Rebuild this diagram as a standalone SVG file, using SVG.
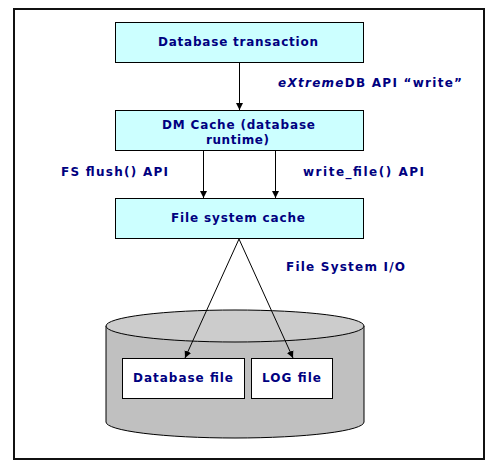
<svg xmlns="http://www.w3.org/2000/svg" width="496" height="470" viewBox="0 0 496 470">
<defs>
<style>
.box{fill:#CCFFFF;stroke:#000;stroke-width:1}
.wbox{fill:#fff;stroke:#000;stroke-width:1}
.t{font-family:"DejaVu Sans",Verdana,sans-serif;font-weight:bold;font-size:12px;fill:#000080}
.ln{stroke:#000;stroke-width:1;fill:none}
</style>
<marker id="ah" viewBox="0 0 10 10" refX="10" refY="5" markerWidth="7" markerHeight="9" markerUnits="userSpaceOnUse" orient="auto">
<path d="M0,0 L10,5 L0,10 z" fill="#000"/>
</marker>
</defs>
<rect x="0" y="0" width="496" height="470" fill="#fff"/>
<rect x="14" y="9" width="470" height="450" fill="#fff" stroke="#111" stroke-width="2"/>
<g id="n-transaction">
<rect class="box" x="115.5" y="22.5" width="248" height="40"/>
<text class="t" x="158" y="46" textLength="160" lengthAdjust="spacing">Database transaction</text>
</g>
<g id="n-dmcache">
<rect class="box" x="115.5" y="110.5" width="248" height="40"/>
<text class="t" x="162" y="129" textLength="153" lengthAdjust="spacing">DM Cache (database</text>
<text class="t" x="206" y="144" textLength="63" lengthAdjust="spacing">runtime)</text>
</g>
<g id="n-fscache">
<rect class="box" x="115.5" y="198.5" width="248" height="40"/>
<text class="t" x="171" y="222" textLength="134" lengthAdjust="spacing">File system cache</text>
</g>
<g id="n-disk">
<path d="M106,326 L106,422 A129,16 0 0 0 364,422 L364,326 Z" fill="#C0C0C0" stroke="#000" stroke-width="1"/>
<ellipse cx="235" cy="326" rx="129" ry="16" fill="#CCCCCC" stroke="#000" stroke-width="1"/>
</g>
<g id="n-dbfile">
<rect class="wbox" x="122.5" y="358.5" width="122" height="40"/>
<text class="t" x="133" y="382" textLength="100" lengthAdjust="spacing">Database file</text>
</g>
<g id="n-logfile">
<rect class="wbox" x="251.5" y="358.5" width="81" height="40"/>
<text class="t" x="262" y="382" textLength="59" lengthAdjust="spacing">LOG file</text>
</g>
<g id="connectors">
<line class="ln" x1="239.5" y1="63" x2="239.5" y2="110" marker-end="url(#ah)"/>
<line class="ln" x1="203.5" y1="151" x2="203.5" y2="198" marker-end="url(#ah)"/>
<line class="ln" x1="275.5" y1="151" x2="275.5" y2="198" marker-end="url(#ah)"/>
<line class="ln" x1="239" y1="239" x2="185" y2="358" marker-end="url(#ah)"/>
<line class="ln" x1="239" y1="239" x2="293" y2="358" marker-end="url(#ah)"/>
</g>
<g id="labels">
<text class="t" x="278" y="87" textLength="184" lengthAdjust="spacing"><tspan font-style="italic">eXtreme</tspan>DB API  “write”</text>
<text class="t" x="61" y="176" textLength="107" lengthAdjust="spacing">FS flush() API</text>
<text class="t" x="303" y="176" textLength="121" lengthAdjust="spacing">write_file() API</text>
<text class="t" x="286" y="271" textLength="119" lengthAdjust="spacing">File System I/O</text>
</g>
</svg>
